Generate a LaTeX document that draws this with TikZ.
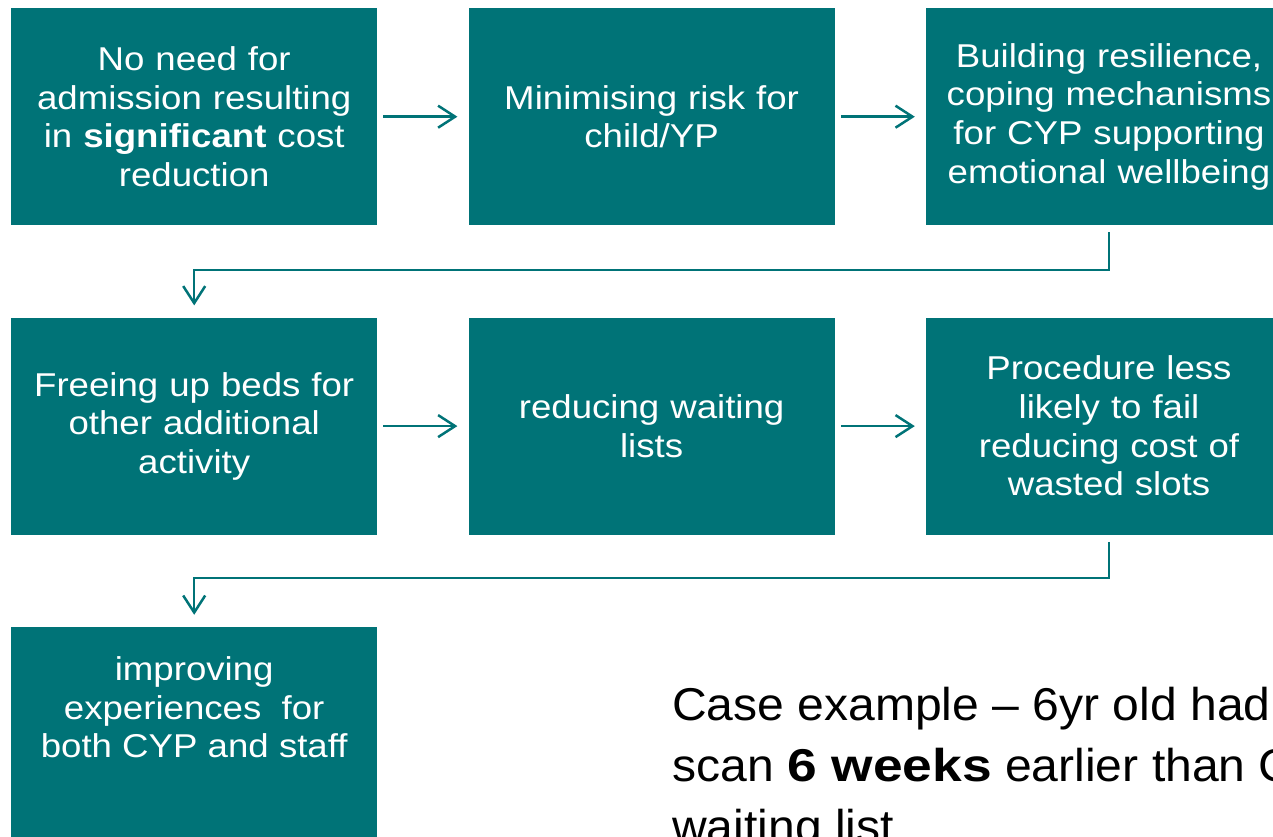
\documentclass[tikz,border=0pt]{standalone}
\usepackage{fontspec}
\setmainfont{Liberation Sans}
\newfontfamily\boxfont[FakeStretch=1.11]{Liberation Sans}
\newfontfamily\casefont[FakeStretch=1.045, BoldFeatures={FakeStretch=1.16}]{Liberation Sans}
\usetikzlibrary{positioning,arrows.meta}

\definecolor{boxteal}{HTML}{007377}

\tikzset{
  box/.style={fill=boxteal, text=white, minimum width=366pt, minimum height=217pt,
    inner sep=0pt, text width=360pt, align=center,
    font=\boxfont\fontsize{33}{38.6}\selectfont},
  flow/.style={draw=boxteal, line width=2.5pt,
    -{Straight Barb[length=17pt,width=22pt,line width=2.5pt]}},
}

\begin{document}
\begin{tikzpicture}[x=1pt,y=-1pt]
\useasboundingbox (0,0) rectangle (1273,837);
\clip (0,0) rectangle (1273,837);

\node[box, anchor=north west] (admission) at (11,8) {No need for\\admission resulting\\in \textbf{significant} cost\\reduction};
\node[box, right=91pt of admission] (risk) {Minimising risk for\\child/YP};
\node[box, right=91pt of risk] (resilience) {Building resilience,\\coping mechanisms\\for CYP supporting\\emotional wellbeing};

\node[box, below=92pt of admission] (beds) {Freeing up beds for\\other additional\\activity};
\node[box, right=91pt of beds] (waiting) {reducing waiting\\lists};
\node[box, right=91pt of waiting] (procedure) {Procedure less\\likely to fail\\reducing cost of\\wasted slots};

\node[box, below=92pt of beds] (experience) {};
\node[text=white, align=center, font=\boxfont\fontsize{33}{38.6}\selectfont] (experiencetext)
  at ([yshift=28pt]experience.center) {improving\\experiences~ for\\both CYP and staff};

\coordinate (turn1) at (0,270);
\coordinate (turn2) at (0,578);

\draw[flow, shorten <=6pt, shorten >=11pt] (admission) -- (risk);
\draw[flow, shorten <=6pt, shorten >=11pt] (risk) -- (resilience);
\draw[flow, shorten <=6pt, shorten >=11pt] (beds) -- (waiting);
\draw[flow, shorten <=6pt, shorten >=11pt] (waiting) -- (procedure);

\draw[flow, shorten <=7pt, shorten >=12pt] (resilience.south) -- (resilience.south |- turn1)
  -- (admission.south |- turn1) -- (beds.north);
\draw[flow, shorten <=7pt, shorten >=12pt] (procedure.south) -- (procedure.south |- turn2)
  -- (beds.south |- turn2) -- (experience.north);

\node[anchor=north west, align=left, inner sep=0pt, font=\casefont\fontsize{46}{61}\selectfont] (case)
  at (672,687) {Case example – 6yr old had\\scan \textbf{6 weeks} earlier than C\\waiting list};
\end{tikzpicture}
\end{document}
